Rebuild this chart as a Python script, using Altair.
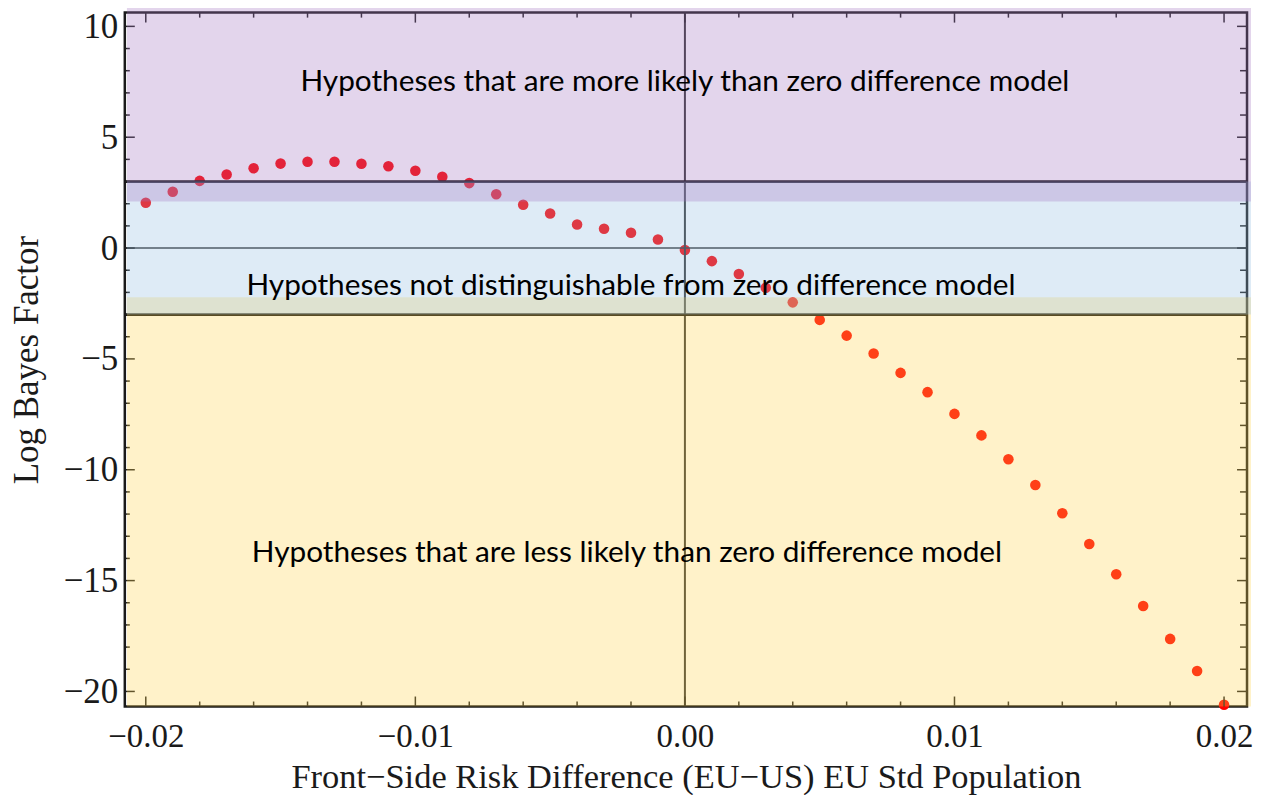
import altair as alt
import pandas as pd

# ---- data ----
risk_diff = [-0.020, -0.019, -0.018, -0.017, -0.016, -0.015, -0.014, -0.013, -0.012, -0.011,
             -0.010, -0.009, -0.008, -0.007, -0.006, -0.005, -0.004, -0.003, -0.002, -0.001,
             0.000, 0.001, 0.002, 0.003, 0.004, 0.005, 0.006, 0.007, 0.008, 0.009,
             0.010, 0.011, 0.012, 0.013, 0.014, 0.015, 0.016, 0.017, 0.018, 0.019, 0.020]
log_bf = [2.04, 2.54, 3.03, 3.32, 3.60, 3.81, 3.89, 3.89, 3.80, 3.69,
          3.49, 3.22, 2.93, 2.43, 1.95, 1.56, 1.06, 0.87, 0.69, 0.39,
          -0.09, -0.59, -1.17, -1.79, -2.45, -3.24, -3.95, -4.76, -5.63, -6.50,
          -7.48, -8.45, -9.53, -10.69, -11.96, -13.35, -14.71, -16.15, -17.63, -19.08, -20.6]

band_names = ["less", "neutral", "more"]
band_lo = [-20.68, -3.0, 2.1]
band_hi = [-2.22, 3.0, 10.85]
band_colors = ["#FFD44B", "#91BCE1", "#A273C0"]

threshold_lines = [3.0, -3.0]

x_major = [-0.02, -0.01, 0.0, 0.01, 0.02]
x_minor = [-0.018, -0.016, -0.014, -0.012, -0.008, -0.006, -0.004, -0.002,
           0.002, 0.004, 0.006, 0.008, 0.012, 0.014, 0.016, 0.018]
y_major = [-20, -15, -10, -5, 0, 5, 10]
y_minor = [-19, -18, -17, -16, -14, -13, -12, -11, -9, -8, -7, -6, -4, -3, -2, -1,
           1, 2, 3, 4, 6, 7, 8, 9]

labels = ["Hypotheses that are more likely than zero difference model",
          "Hypotheses not distinguishable from zero difference model",
          "Hypotheses that are less likely than zero difference model"]

# ---- tables ----
pts = pd.DataFrame({"x": risk_diff, "y": log_bf})
bands = pd.DataFrame({"band": band_names, "lo": band_lo, "hi": band_hi})
thr = pd.DataFrame({"y": threshold_lines})
xmaj = pd.DataFrame({"x": x_major})
xmin = pd.DataFrame({"x": x_minor})
ymaj = pd.DataFrame({"y": y_major})
ymin = pd.DataFrame({"y": y_minor})

W, H = 1124, 695
XD = [-0.020778, 0.020852]
YD = [-20.68, 10.62]

xs = alt.Scale(domain=XD, nice=False, zero=False)
ys = alt.Scale(domain=YD, nice=False, zero=False)

SERIF = "Liberation Serif"
TICK = "#1e1e1e"

points = alt.Chart(pts).mark_circle(size=112, color="#ff0000", opacity=1).encode(
    x=alt.X("x:Q", scale=xs, title="Front\u2212Side Risk Difference (EU\u2212US) EU Std Population",
            axis=alt.Axis(values=x_major, format=".2f", ticks=False, domain=False, grid=False,
                          labelFont=SERIF, labelFontSize=33, labelPadding=14, labelColor="#1a1a1a",
                          titleFont=SERIF, titleFontSize=34.5, titleFontWeight="normal",
                          titleColor="#1a1a1a", titlePadding=7, labelFlush=False)),
    y=alt.Y("y:Q", scale=ys, title="Log Bayes Factor",
            axis=alt.Axis(values=y_major, format="d", ticks=False, domain=False, grid=False,
                          labelFont=SERIF, labelFontSize=35, labelPadding=7, labelColor="#1a1a1a",
                          titleFont=SERIF, titleFontSize=35, titleFontWeight="normal",
                          titleColor="#1a1a1a", titlePadding=19, labelFlush=False)),
)

zero_h = alt.Chart(pd.DataFrame({"y": [0.0]})).mark_rule(color="#333333", strokeWidth=1.6).encode(
    y=alt.Y("y:Q", scale=ys))
zero_v = alt.Chart(pd.DataFrame({"x": [0.0]})).mark_rule(color="#333333", strokeWidth=2).encode(
    x=alt.X("x:Q", scale=xs))
thr_lines = alt.Chart(thr).mark_rule(color="#111111", strokeWidth=2.8).encode(
    y=alt.Y("y:Q", scale=ys))

def xticks(df, length):
    b = alt.Chart(df).mark_rule(color=TICK, strokeWidth=1.5).encode(
        x=alt.X("x:Q", scale=xs), y=alt.value(H), y2=alt.value(H - length))
    t = alt.Chart(df).mark_rule(color=TICK, strokeWidth=1.5).encode(
        x=alt.X("x:Q", scale=xs), y=alt.value(0), y2=alt.value(length))
    return [b, t]

def yticks(df, length, rlength):
    l = alt.Chart(df).mark_rule(color=TICK, strokeWidth=1.5).encode(
        y=alt.Y("y:Q", scale=ys), x=alt.value(0), x2=alt.value(length))
    r = alt.Chart(df).mark_rule(color=TICK, strokeWidth=1.5).encode(
        y=alt.Y("y:Q", scale=ys), x=alt.value(W), x2=alt.value(W - rlength))
    return [l, r]

tick_layers = xticks(xmaj, 10) + xticks(xmin, 5) + yticks(ymaj, 10, 10) + yticks(ymin, 5, 7)

overlay = alt.Chart(bands).mark_rect(opacity=0.3).encode(
    x=alt.X(datum=-0.0207, scale=xs),
    x2=alt.X2(datum=0.0210),
    y=alt.Y("lo:Q", scale=ys),
    y2="hi:Q",
    color=alt.Color("band:N", scale=alt.Scale(domain=band_names, range=band_colors), legend=None),
)

def note(text, xv, yv):
    return alt.Chart(pd.DataFrame({"t": [text]})).mark_text(
        font="Lato", fontSize=29.8, color="#000000", align="center", baseline="middle").encode(
        x=alt.X(datum=xv, scale=xs), y=alt.Y(datum=yv, scale=ys), text="t:N")

notes = [note(labels[0], 0.0, 7.47), note(labels[1], -0.002, -1.73), note(labels[2], -0.00215, -13.75)]

chart = alt.layer(points, zero_h, zero_v, thr_lines, *tick_layers, overlay, *notes).properties(
    width=W, height=H,
    autosize=alt.AutoSizeParams(type="none"),
    padding={"left": 117, "top": 4, "right": 12, "bottom": 88},
    background="white",
).configure_view(stroke="#1a1a1a", strokeWidth=2.5)

chart.save("out.html", embed_options={"renderer": "svg", "actions": False})
